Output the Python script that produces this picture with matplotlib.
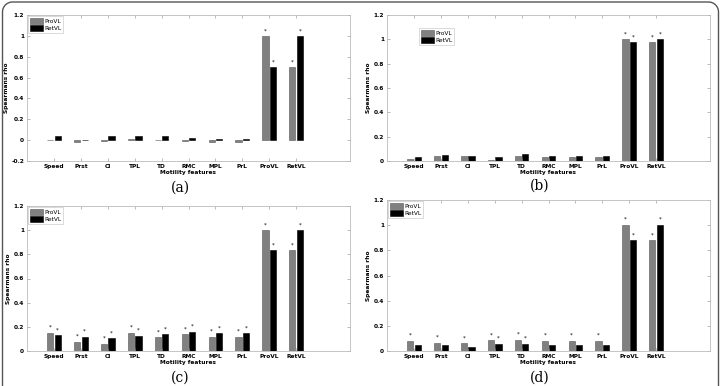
import matplotlib.pyplot as plt
import numpy as np
from matplotlib.lines import Line2D

features = ["Speed", "Prst", "CI", "TPL", "TD", "RMC", "MPL", "PrL", "ProVL", "RetVL"]

# panel (a)
a_pro = [0.005, -0.02, -0.005, 0.01, 0.0, -0.01, -0.015, -0.015, 1.0, 0.70]
a_ret = [0.035, 0.0, 0.035, 0.04, 0.04, 0.025, 0.015, 0.015, 0.70, 1.0]
a_pro_star = [0, 0, 0, 0, 0, 0, 0, 0, 1, 1]
a_ret_star = [0, 0, 0, 0, 0, 0, 0, 0, 1, 1]

# panel (b)
b_pro = [0.015, 0.04, 0.045, 0.01, 0.045, 0.03, 0.035, 0.035, 1.0, 0.975]
b_ret = [0.035, 0.05, 0.045, 0.035, 0.06, 0.04, 0.045, 0.045, 0.975, 1.0]
b_pro_star = [0, 0, 0, 0, 0, 0, 0, 0, 1, 1]
b_ret_star = [0, 0, 0, 0, 0, 0, 0, 0, 1, 1]

# panel (c)
c_pro = [0.15, 0.075, 0.06, 0.15, 0.115, 0.14, 0.12, 0.12, 1.0, 0.835]
c_ret = [0.13, 0.12, 0.105, 0.125, 0.14, 0.16, 0.145, 0.145, 0.835, 1.0]
c_pro_star = [1, 1, 1, 1, 1, 1, 1, 1, 1, 1]
c_ret_star = [1, 1, 1, 1, 1, 1, 1, 1, 1, 1]

# panel (d)
d_pro = [0.08, 0.065, 0.06, 0.085, 0.09, 0.08, 0.08, 0.08, 1.0, 0.88]
d_ret = [0.045, 0.05, 0.035, 0.055, 0.055, 0.05, 0.05, 0.05, 0.88, 1.0]
d_pro_star = [1, 1, 1, 1, 1, 1, 1, 1, 1, 1]
d_ret_star = [0, 0, 0, 1, 1, 0, 0, 0, 1, 1]

W, H = 721, 386
fig = plt.figure(figsize=(W / 100, H / 100), dpi=100)
fig.patch.set_facecolor("white")

# outer frame: top edge with rounded corners, open at the bottom (pixel coords, y down)
r = 10
t = np.linspace(0, np.pi / 2, 20)
xl, xr, yt = 2.5, 718.5, 2.0
left_arc_x = xl + r - r * np.cos(t)
left_arc_y = yt + r - r * np.sin(t)
right_arc_x = xr - r + r * np.sin(t)
right_arc_y = yt + r - r * np.cos(t)
fx = np.concatenate([[xl], left_arc_x, right_arc_x, [xr]])
fy = np.concatenate([[H + 5], left_arc_y, right_arc_y, [H + 5]])
fig.lines.append(Line2D(fx / W, 1 - fy / H, transform=fig.transFigure,
                        color="#555555", linewidth=1.0))


def px_axes(left, top, right, bottom):
    return fig.add_axes([left / W, 1 - bottom / H, (right - left) / W, (bottom - top) / H])


def panel(ax, pro, ret, pro_star, ret_star, ymin, legend_loc):
    x = np.arange(1, len(features) + 1)
    w = 0.23
    off = 0.14
    ax.bar(x - off, pro, w, color="#808080", edgecolor="#555555", linewidth=0.4, label="ProVL")
    ax.bar(x + off, ret, w, color="black", edgecolor="black", linewidth=0.4, label="RetVL")
    # significance marks
    for i in range(len(features)):
        if pro_star[i]:
            ax.text(x[i] - off, max(pro[i], 0) + 0.025, "*", ha="center", va="bottom", fontsize=4)
        if ret_star[i]:
            ax.text(x[i] + off, max(ret[i], 0) + 0.025, "*", ha="center", va="bottom", fontsize=4)
    ax.set_xlim(0, 12)
    ax.set_ylim(ymin, 1.2)
    ax.set_xticks(x)
    ax.set_xticklabels(features, fontsize=4.2, fontweight="bold")
    yticks = np.round(np.arange(ymin, 1.21, 0.2), 1)
    ax.set_yticks(yticks)
    ax.set_yticklabels([("%g" % v) for v in yticks], fontsize=4.2, fontweight="bold")
    ax.tick_params(direction="in", length=2, width=0.4, color="#888888", pad=2,
                   top=True, right=True)
    for s in ax.spines.values():
        s.set_color("#bbbbbb")
        s.set_linewidth(0.6)
    ax.set_xlabel("Motility features", fontsize=4.2, fontweight="bold", labelpad=1)
    ax.set_ylabel("Spearmans rho", fontsize=4.2, fontweight="bold", labelpad=2)
    if legend_loc is None:
        leg = ax.legend(loc="upper left", fontsize=4.2, handlelength=2.2, handleheight=1.2,
                        borderpad=0.3, labelspacing=0.2, handletextpad=0.3,
                        fancybox=False, framealpha=1, borderaxespad=0.2)
    else:
        leg = ax.legend(loc="upper left", bbox_to_anchor=legend_loc, fontsize=4.2,
                        handlelength=2.2, handleheight=1.2, borderpad=0.3, labelspacing=0.2,
                        handletextpad=0.3, fancybox=False, framealpha=1)
    leg.get_frame().set_edgecolor("#cccccc")
    leg.get_frame().set_linewidth(0.5)


ax_a = px_axes(27, 15, 350, 161)
panel(ax_a, a_pro, a_ret, a_pro_star, a_ret_star, -0.2, None)
ax_b = px_axes(387, 15, 710, 161)
panel(ax_b, b_pro, b_ret, b_pro_star, b_ret_star, 0.0, (0.09, 0.93))
ax_c = px_axes(27, 206, 350, 351)
panel(ax_c, c_pro, c_ret, c_pro_star, c_ret_star, 0.0, None)
ax_d = px_axes(387, 200, 710, 351)
panel(ax_d, d_pro, d_ret, d_pro_star, d_ret_star, 0.0, None)

for lab, xc, yc in [("(a)", 180, 188), ("(b)", 540, 186), ("(c)", 180, 378), ("(d)", 540, 378)]:
    fig.text(xc / W, 1 - yc / H, lab, ha="center", va="center", fontsize=10, family="DejaVu Serif")

fig.savefig("out.png", dpi=100)
